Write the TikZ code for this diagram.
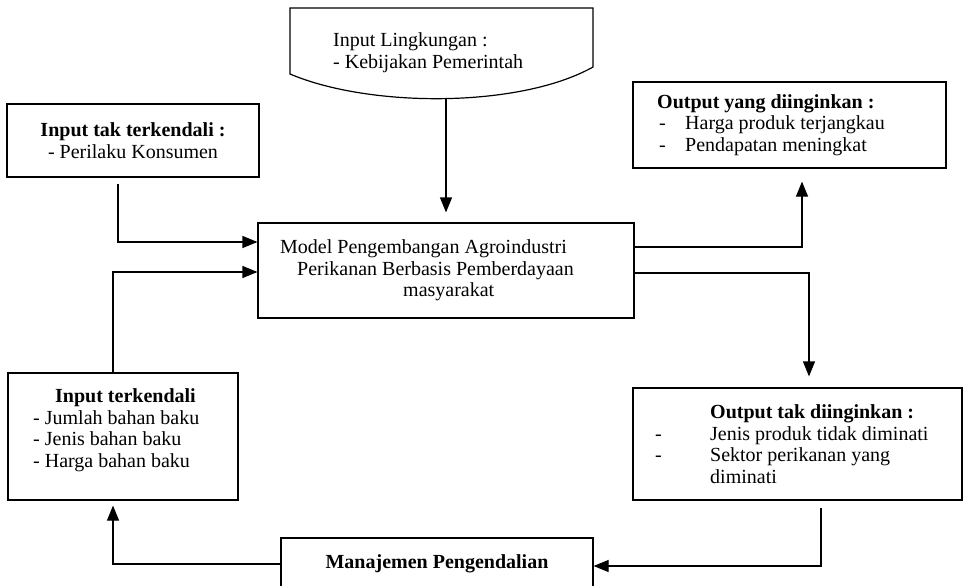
\documentclass[tikz,border=0pt]{standalone}
\usepackage{fontspec}
\setmainfont{Liberation Serif}
\usetikzlibrary{arrows.meta,calc}
\tikzset{
  box/.style={draw, line width=1.2pt, inner sep=0pt},
  ln/.style={line width=1.2pt, line join=miter},
  arr/.style={line width=1.2pt, -{Triangle[length=15pt,width=12pt]}},
  txt/.style={inner sep=0pt, align=left, anchor=west},
}
\begin{document}
\begin{tikzpicture}[x=1pt,y=-1pt,font=\fontsize{20}{21.5}\selectfont]
\clip (0,0) rectangle (964,586);
\fill[white] (0,0) rectangle (964,586);

% top environmental input shape
\draw[ln] (593,67) -- (593,8) -- (290,8) -- (290,74)
  .. controls (370,108) and (520,108) .. (593,67) -- cycle;
\node[txt] (lk) at (333,52.5) {Input Lingkungan :\\- Kebijakan Pemerintah};
\coordinate (lkb) at (446,99);

% boxes
\node[box, minimum width=252pt, minimum height=73pt, align=center] (n1) at (133,140.5)
  {\textbf{Input tak terkendali :}\\- Perilaku Konsumen};
\node[box, minimum width=376pt, minimum height=95pt] (mdl) at (446,270.5) {};
\node[txt] (mdlt) at (280,270.5) {Model Pengembangan Agroindustri\\
  \hspace*{17pt}Perikanan Berbasis Pemberdayaan\\
  \hspace*{123pt}masyarakat};
\node[box, minimum width=313pt, minimum height=86pt] (outy) at (789.5,125) {};
\node[txt] (outyt) at (657,125) {\textbf{Output yang diinginkan :}\\
  \makebox[28pt][l]{\hspace*{2pt}-}Harga produk terjangkau\\
  \makebox[28pt][l]{\hspace*{2pt}-}Pendapatan meningkat};
\node[box, minimum width=329pt, minimum height=112pt] (outt) at (797.5,444) {};
\node[txt] (outtt) at (655,444) {\hspace*{55pt}\textbf{Output tak diinginkan :}\\
  \makebox[55pt][l]{-}Jenis produk tidak diminati\\
  \makebox[55pt][l]{-}Sektor perikanan yang\\
  \hspace*{55pt}diminati};
\node[box, minimum width=230pt, minimum height=127pt] (inc) at (123,436.5) {};
\node[txt] (inct) at (33,430) {\hspace*{22pt}\textbf{Input terkendali}\\
  - Jumlah bahan baku\\
  - Jenis bahan baku\\
  - Harga bahan baku};
\node[box, minimum width=312pt, minimum height=82pt] (mgt) at (437,579) {};
\node[inner sep=0pt] (mgtt) at (437,564) {\textbf{Manajemen Pengendalian}};

% bend points
\coordinate (b1) at (118,242);
\coordinate (b2) at (113,272);
\coordinate (b3) at (802,247);
\coordinate (b4) at (809,273);
\coordinate (b5) at (821,566);
\coordinate (b6) at (113,564);

% connectors
\draw[arr, shorten >=10pt] (lkb) -- (mdl.north);
\draw[arr, shorten <=6pt] (n1.south -| b1) -- (b1) -- (b1 -| mdl.west);
\draw[arr] (inc.north -| b2) -- (b2) -- (b2 -| mdl.west);
\draw[arr, shorten >=13pt] (b3 -| mdl.east) -- (b3) -- (b3 |- outy.south);
\draw[arr, shorten >=11pt] (b4 -| mdl.east) -- (b4) -- (b4 |- outt.north);
\draw[arr, shorten <=7pt] (outt.south -| b5) -- (b5) -- (b5 -| mgt.east);
\draw[arr, shorten >=5pt] (b6 -| mgt.west) -- (b6) -- (b6 |- inc.south);
\end{tikzpicture}
\end{document}
